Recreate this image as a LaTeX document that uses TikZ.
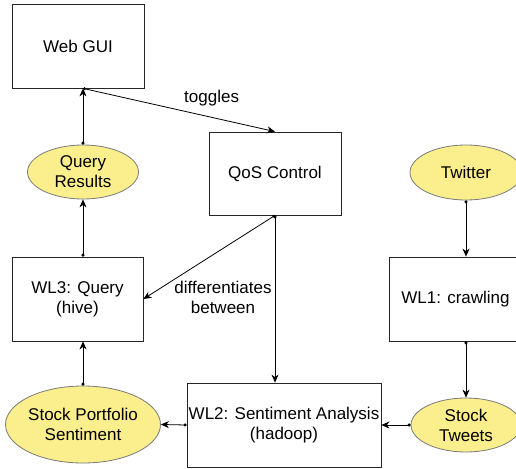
\documentclass[tikz,border=0pt]{standalone}
\usepackage{fontspec}
\setmainfont{Liberation Sans}
\usepackage{tikz}
\usetikzlibrary{
    shapes.geometric, arrows.meta, positioning, calc
}
\definecolor{dataYellow}{HTML}{FBEE8C}
\definecolor{dataBorder}{HTML}{7A7A7A}

\begin{document}
\begin{tikzpicture}[x=1pt, y=-1pt,
    every node/.style={font=\fontsize{17}{20}\selectfont, align=center},
    box/.style={draw=black!85, line width=0.8pt, fill=white, inner sep=0pt},
    data/.style={ellipse, draw=dataBorder, line width=0.8pt, fill=dataYellow, inner sep=0pt},
    link/.style={line width=0.8pt, {Circle[length=3pt]}-{Stealth[length=8pt, width=7pt, inset=2.5pt]}}
]
    \useasboundingbox (0,0) rectangle (516,468);
    \clip (0,0) rectangle (516,468);

    % components
    \node[box, minimum width=132pt, minimum height=84pt] (web) at (78,46) {Web GUI};
    \node[box, minimum width=132pt, minimum height=83pt] (qos) at (275,173.5) {QoS Control};
    \node[box, minimum width=131pt, minimum height=84pt] (wl3) at (77.5,299) {WL3: Query\\(hive)};
    \node[box, minimum width=194pt, minimum height=84pt] (wl2) at (284,425) {WL2: Sentiment Analysis\\(hadoop)};
    \node[box, minimum width=133pt, minimum height=84pt] (wl1) at (455.5,299) {WL1: crawling};

    % data
    \node[data, minimum width=111pt, minimum height=54pt] (qr) at (83,172) {Query\\Results};
    \node[data, minimum width=145pt, minimum height=77pt] (sps) at (83,424.5) {Stock Portfolio\\Sentiment};
    \node[data, minimum width=110pt, minimum height=54pt] (st) at (466,425) {Stock\\Tweets};
    \node[data, minimum width=112pt, minimum height=55pt] (tw) at (466,172.5) {Twitter};

    \draw[link] (qr.north) -- (qr.north |- web.south);
    \draw[link] (web.south -| qr.north) -- (qos.north)
        node[pos=0.67, above=11pt, inner sep=0pt] {toggles};
    \draw[link] (qos.south) -- (wl3.east);
    \draw[link] (qos.south) -- (qos.south |- wl2.north);
    \node (diff) at (223,297.5) {differentiates\\between};
    \draw[link] (wl3.north -| qr.south) -- (qr.south);
    \draw[link] (sps.north) -- (sps.north |- wl3.south);
    \draw[link] (wl2.west) -- (sps.east);
    \draw[link] (st.west) -- (wl2.east);
    \draw[link] (tw.south) -- (tw.south |- wl1.north);
    \draw[link] (wl1.south -| st.north) -- (st.north);
\end{tikzpicture}
\end{document}
